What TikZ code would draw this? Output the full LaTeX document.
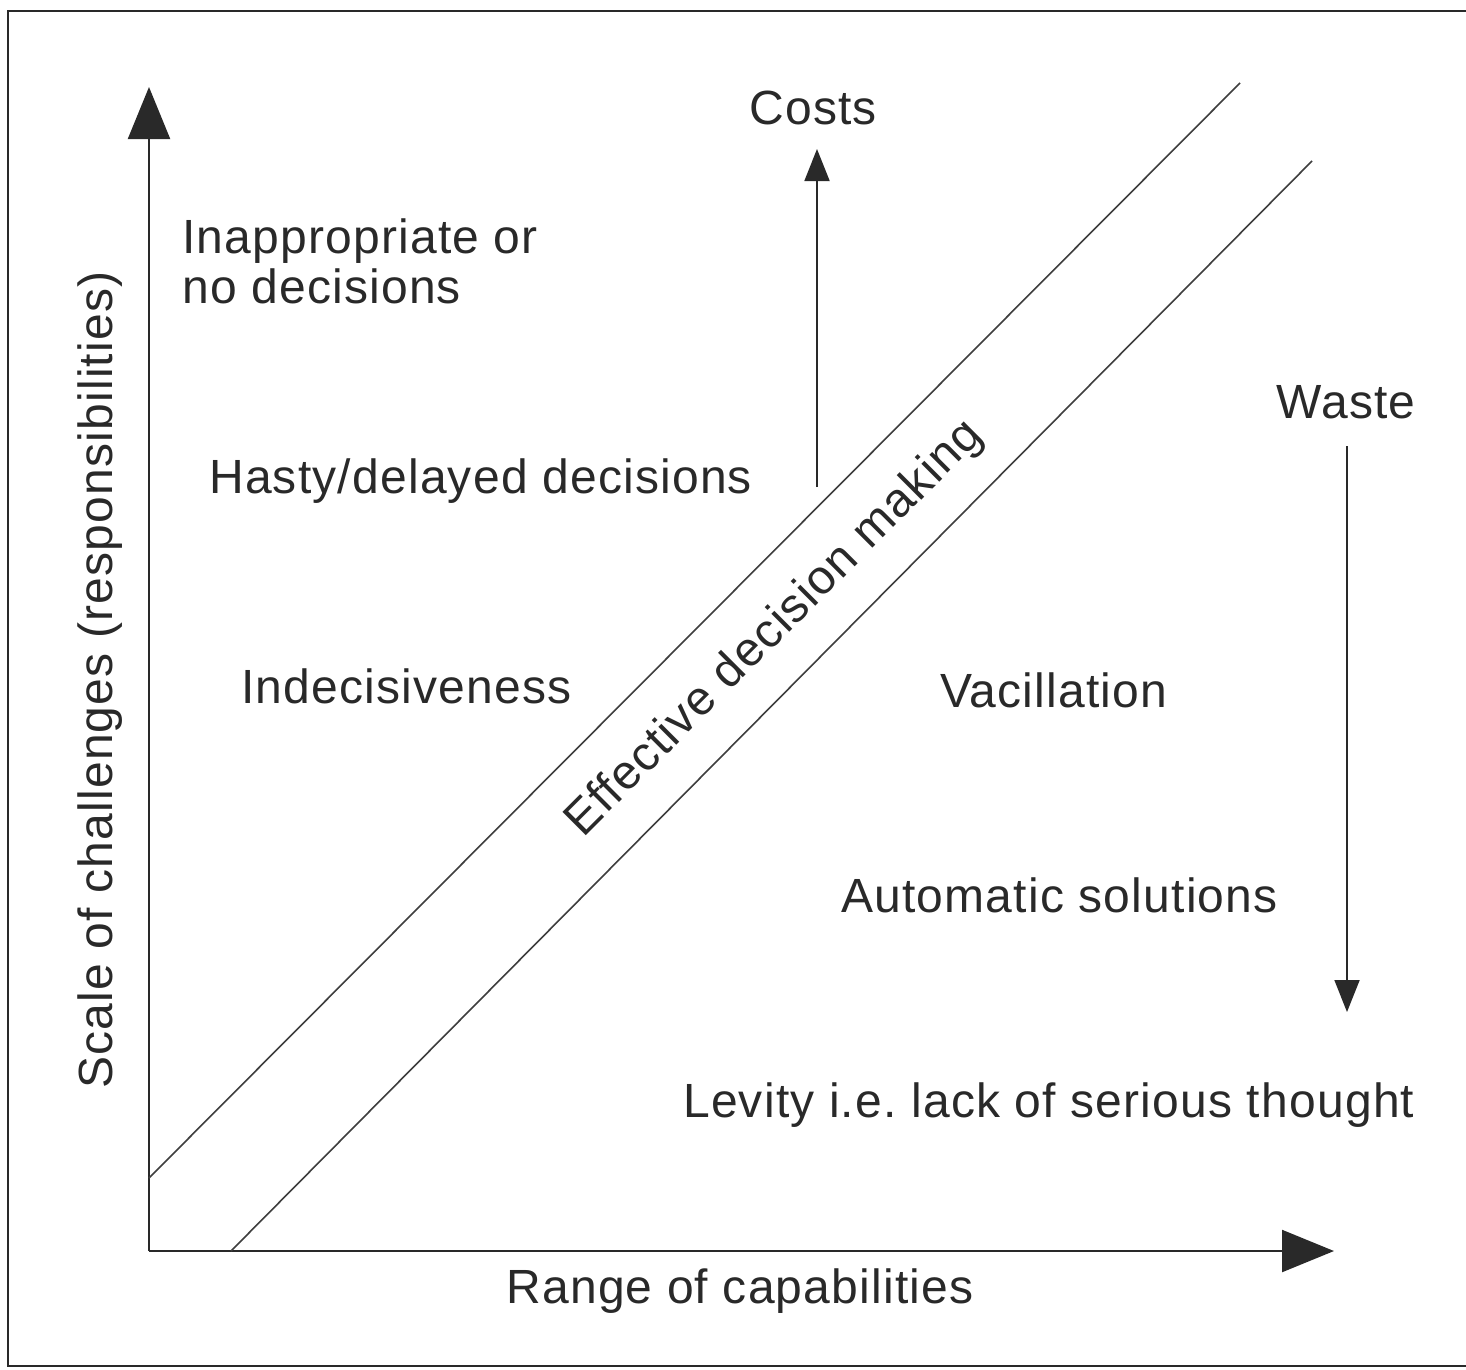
\documentclass[tikz,border=0pt]{standalone}
\usepackage{fontspec}
\setmainfont{Liberation Sans}[LetterSpace=2.5]
\usetikzlibrary{arrows.meta}
\definecolor{ink}{gray}{0.16}
\frenchspacing
\begin{document}
\begin{tikzpicture}[x=1pt,y=-1pt,
  lbl/.style={text=ink,font=\fontsize{48}{50}\selectfont,inner sep=0pt},
  axis/.style={line width=2.2pt,draw=ink,-{Triangle[length=52pt,width=42pt]}},
  band/.style={line width=1.6pt,draw=ink!90},
  trend/.style={line width=1.8pt,draw=ink,-{Triangle[length=32pt,width=25pt]}}]
  \useasboundingbox (0,0) rectangle (1466,1369);
  \fill[white] (0,0) rectangle (1466,1369);
  % frame, its right side runs past the page edge
  \draw[line width=2.4pt,draw=ink] (1480,11) -- (8,11) -- (8,1366) -- (1480,1366);

  % axes
  \coordinate (origin) at (149,1251);
  \coordinate (ytip) at (149,87);
  \coordinate (xtip) at (1334,1251);
  \draw[axis] (origin) -- (ytip);
  \draw[axis] (origin) -- (xtip);

  % band of effective decision making
  \coordinate (ua) at (149,1178);
  \coordinate (ub) at (1240,83);
  \coordinate (la) at (231,1251);
  \coordinate (lb) at (1312,161);
  \draw[band] (ua) -- (ub);
  \draw[band] (la) -- (lb);
  \node[lbl,rotate=45] (edm) at (775,629) {Effective decision making};

  % axis titles
  \node[lbl,rotate=90] (ylab) at (100,680) {Scale of challenges (responsibilities)};
  \node[lbl] (xlab) at (740,1291) {Range of capabilities};

  % costs and waste
  \node[lbl] (costs) at (813,108) {Costs};
  \coordinate (costfoot) at (817,487);
  \coordinate (costtip) at (817,149);
  \draw[trend] (costfoot) -- (costtip);
  \node[lbl] (waste) at (1346,402) {Waste};
  \coordinate (wastetop) at (1347,446);
  \coordinate (wastetip) at (1347,1012);
  \draw[trend] (wastetop) -- (wastetip);

  % regions above the band
  \node[lbl,anchor=west,align=left] (inap) at (182,261) {Inappropriate or\\no decisions};
  \node[lbl,anchor=west] (hasty) at (209,481) {Hasty/delayed decisions};
  \node[lbl,anchor=west] (indec) at (241,686) {Indecisiveness};

  % regions below the band
  \node[lbl,anchor=west] (vacil) at (940,690) {Vacillation};
  \node[lbl,anchor=west] (auto) at (841,895) {Automatic solutions};
  \node[lbl,anchor=west] (levity) at (683,1105) {Levity i.e. lack of serious thought};
\end{tikzpicture}
\end{document}
